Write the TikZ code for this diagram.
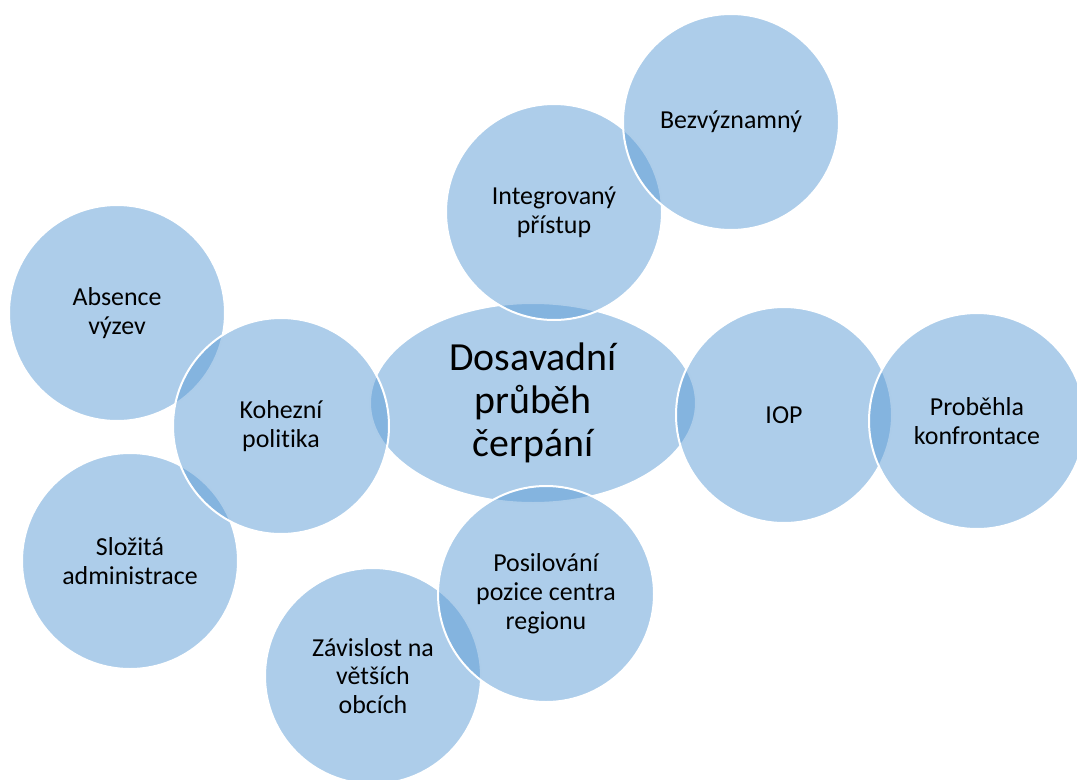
\documentclass[tikz,border=0pt]{standalone}
\usepackage{fontspec}
\setmainfont{Carlito}[Ligatures={NoCommon}]
\usepackage{tikz}
\usetikzlibrary{shapes.geometric}
\definecolor{vennblue}{HTML}{5B9BD5}

\begin{document}
\begin{tikzpicture}[x=1bp, y=-1bp,
  bubble/.style={circle, draw=white, line width=2bp, fill=vennblue,
    fill opacity=0.5, text opacity=1, minimum size=216bp, inner sep=0pt,
    align=center, font=\fontsize{26}{29}\selectfont},
  hub/.style={bubble, ellipse, minimum width=326bp, minimum height=200bp,
    font=\fontsize{40}{43}\selectfont}]
  \useasboundingbox (0,0) rectangle (1077,780);
  \node[hub] (core) at (533,403) {Dosavadní\\průběh\\čerpání};
  \node[bubble] (absence) at (117,313) {Absence\\výzev};
  \node[bubble] (admin) at (130,561) {Složitá\\administrace};
  \node[bubble] (koheze) at (281,426) {Kohezní\\politika};
  \node[bubble] (obce) at (373,676) {Závislost na\\větších\\obcích};
  \node[bubble] (centrum) at (546,594) {Posilování\\pozice centra\\regionu};
  \node[bubble] (pristup) at (554,212) {Integrovaný\\přístup};
  \node[bubble] (bezvyz) at (731,122) {Bezvýznamný};
  \node[bubble] (iop) at (784,415) {IOP};
  \node[bubble] (konfr) at (977,421) {Proběhla\\konfrontace};
\end{tikzpicture}
\end{document}
